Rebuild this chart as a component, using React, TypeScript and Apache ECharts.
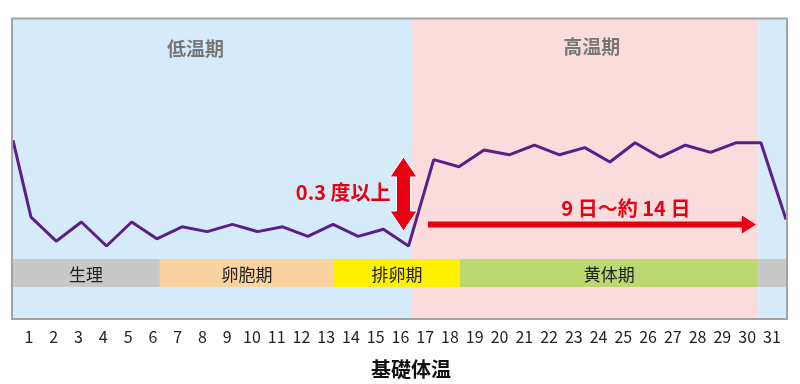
import React, { useEffect, useRef } from "react";
import * as echarts from "echarts";

// ---- data ----
const dayLabels = [1, 2, 3, 4, 5, 6, 7, 8, 9, 10, 11, 12, 13, 14, 15, 16, 17, 18, 19, 20, 21, 22, 23, 24, 25, 26, 27, 28, 29, 30, 31];
// first entry is the previous cycle's trace entering at the left edge
const lineDays = [0.285, 1, 2, 3, 4, 5, 6, 7, 8, 9, 10, 11, 12, 13, 14, 15, 16, 17, 18, 19, 20, 21, 22, 23, 24, 25, 26, 27, 28, 29, 30, 31];
const temps = [36.74, 36.42, 36.32, 36.40, 36.30, 36.40, 36.33, 36.38, 36.36, 36.39, 36.36, 36.38, 36.34, 36.39, 36.34, 36.37, 36.30, 36.66, 36.63, 36.70, 36.68, 36.72, 36.68, 36.71, 36.65, 36.73, 36.67, 36.72, 36.69, 36.73, 36.73, 36.41];

const periodNames = ["低温期", "高温期", ""];
const periodStarts = [0.245, 16.1, 29.9];
const periodEnds = [16.1, 29.9, 31.036];

const phaseNames = ["生理", "卵胞期", "排卵期", "黄体期", ""];
const phaseStarts = [0.245, 6.12, 13.04, 18.04, 29.9];
const phaseEnds = [6.12, 13.04, 18.04, 29.9, 31.036];
const phaseTempRange = [36.129, 36.246];

// annotation: rise of temperature (day, from temp, to temp)
const riseArrow = [15.8, 36.3625, 36.671];
const riseText = "0.3 度以上";
// annotation: high-temperature span (from day, to day, temp)
const spanArrow = [16.77, 29.8, 36.39];
const spanText = "9 日～約 14 日";
const axisTitle = "基礎体温";

// ---- styles ----
const FONT = '"Noto Sans CJK JP", "Noto Sans", sans-serif';
const periodColors = ["#d5ebf9", "#fadcdc", "#d5ebf9"];
const phaseColors = ["#c8c8c8", "#f9d4a0", "#fff100", "#bdd771", "#c8c8c8"];
const RED = "#e60012";

export default function App() {
  const ref = useRef<HTMLDivElement>(null);
  useEffect(() => {
    const chart = echarts.init(ref.current!, null, { renderer: "svg" });
    const option: any = {
      animation: false,
      grid: { left: 12, top: 18, width: 775, height: 300, containLabel: false, outerBoundsMode: "none" },
      xAxis: [
        {
          type: "value",
          min: 0.313,
          max: 31.61,
          position: "bottom",
          axisLine: { show: false },
          axisTick: { show: false },
          splitLine: { show: false },
          axisLabel: {
            customValues: dayLabels,
            color: "#222",
            fontSize: 16,
            fontFamily: FONT,
            margin: 10,
            hideOverlap: false,
          },
        },
        { type: "value", min: 0.245, max: 31.036, show: false },
      ],
      yAxis: { type: "value", min: 36.0, max: 37.25, show: false },
      series: [
        {
          type: "line",
          xAxisIndex: 1,
          data: [],
          z: 1,
          markArea: {
            silent: true,
            data: periodNames.map((n, i) => [
              { xAxis: periodStarts[i], itemStyle: { color: periodColors[i] }, label: { show: false } },
              { xAxis: periodEnds[i] },
            ]),
          },
        },
        {
          type: "line",
          xAxisIndex: 1,
          data: [],
          z: 2,
          markArea: {
            silent: true,
            label: { show: true, position: "inside", color: "#222", fontSize: 17, fontFamily: FONT },
            data: phaseNames.map((n, i) => [
              { xAxis: phaseStarts[i], yAxis: phaseTempRange[0], name: n, itemStyle: { color: phaseColors[i] } },
              { xAxis: phaseEnds[i], yAxis: phaseTempRange[1] },
            ]),
          },
        },
        {
          type: "line",
          xAxisIndex: 1,
          z: 5,
          data: lineDays.map((d, i) => [d, temps[i]]),
          symbol: "none",
          showSymbol: false,
          clip: true,
          lineStyle: { color: "#5b1f8a", width: 3 },
        },
      ],
    };
    chart.setOption(option);

    const px = (d: number, t: number) => chart.convertToPixel({ seriesIndex: 2 }, [d, t]) as number[];

    // vertical double arrow
    const top = px(riseArrow[0], riseArrow[2]);
    const bot = px(riseArrow[0], riseArrow[1]);
    const cx = top[0];
    const ty = top[1];
    const by = bot[1];
    const hl = 20, hw = 13.5, sw = 7;
    const vPoints = [
      [cx, ty], [cx + hw, ty + hl], [cx + sw, ty + hl], [cx + sw, by - hl], [cx + hw, by - hl],
      [cx, by], [cx - hw, by - hl], [cx - sw, by - hl], [cx - sw, ty + hl], [cx - hw, ty + hl],
    ];
    // horizontal arrow
    const hs = px(spanArrow[0], spanArrow[2]);
    const he = px(spanArrow[1], spanArrow[2]);
    const hy = hs[1];
    const hhl = 14, hhw = 9, hsw = 3;
    const hPoints = [
      [hs[0], hy - hsw], [he[0] - hhl, hy - hsw], [he[0] - hhl, hy - hhw], [he[0], hy],
      [he[0] - hhl, hy + hhw], [he[0] - hhl, hy + hsw], [hs[0], hy + hsw],
    ];
    const lowStart = px(periodStarts[0], 37.25);
    const lowEnd = px(periodEnds[0], 37.25);
    const highEnd = px(periodEnds[1], 37.25);

    chart.setOption({
      graphic: [
        {
          type: "text", x: (lowStart[0] + lowEnd[0]) / 2 - 16, y: 47, z: 50,
          style: { text: periodNames[0], fill: "#777", font: `bold 19px ${FONT}`, align: "center", verticalAlign: "middle" },
        },
        {
          type: "text", x: (lowEnd[0] + highEnd[0]) / 2 + 7, y: 45, z: 50,
          style: { text: periodNames[1], fill: "#777", font: `bold 19px ${FONT}`, align: "center", verticalAlign: "middle" },
        },
        { type: "polygon", z: 50, shape: { points: vPoints }, style: { fill: RED, stroke: "#fff", lineWidth: 1 } },
        {
          type: "text", x: cx - 13, y: (ty + by) / 2 - 2, z: 50,
          style: { text: riseText, fill: RED, font: `bold 20px ${FONT}`, align: "right", verticalAlign: "middle" },
        },
        { type: "polygon", z: 50, shape: { points: hPoints }, style: { fill: RED } },
        {
          type: "text", x: he[0] - 130, y: hy - 17, z: 50,
          style: { text: spanText, fill: RED, font: `bold 20px ${FONT}`, align: "center", verticalAlign: "middle" },
        },
        {
          type: "rect", z: 100,
          shape: { x: 12, y: 18.5, width: 775, height: 300.5 },
          style: { fill: "none", stroke: "#a3a3a3", lineWidth: 2 },
        },
        {
          type: "text", x: 411, y: 368, z: 50,
          style: { text: axisTitle, fill: "#111", font: `bold 20px ${FONT}`, align: "center", verticalAlign: "middle" },
        },
      ],
    });
    return () => chart.dispose();
  }, []);
  return <div ref={ref} style={{ position: "fixed", left: 0, top: 0, width: 800, height: 384 }} />;
}
